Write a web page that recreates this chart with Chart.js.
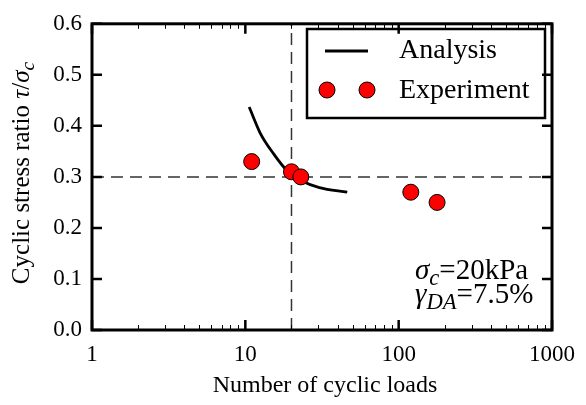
<!DOCTYPE html>
<html>
<head>
<meta charset="utf-8">
<script src="https://cdn.jsdelivr.net/npm/chart.js@4.4.1/dist/chart.umd.min.js"></script>
<style>
  html, body { margin: 0; padding: 0; background: #fff; }
  #wrap { width: 586px; height: 405px; }
</style>
</head>
<body>
<div id="wrap"><canvas id="cyclicChart"></canvas></div>
<script>
const ctx = document.getElementById('cyclicChart');

const SERIF = '"Liberation Serif", "Times New Roman", serif';

// test results: cycles to failure vs stress ratio
const expCycles = [11, 20, 23, 120, 178];
const expRatio  = [0.33, 0.31, 0.30, 0.27, 0.25];

// analysis curve
const anaCycles = [10.6, 12.5, 15.3, 18.6, 23.8, 30.4, 46.2];
const anaRatio  = [0.437, 0.386, 0.345, 0.313, 0.291, 0.279, 0.270];

// reference lines (ratio 0.3 at 20 cycles)
const refRatio  = 0.3;
const refCycles = 20;

const xTicks = [1, 10, 100, 1000];
const yTicks = [0, 0.1, 0.2, 0.3, 0.4, 0.5, 0.6];

const toXY = (xs, ys) => xs.map((x, i) => ({x: x, y: ys[i]}));

const datasets = [
    {
        label: 'Experiment',
        data: toXY(expCycles, expRatio),
        showLine: false,
        pointRadius: 8,
        pointBackgroundColor: '#ff0000',
        pointBorderColor: '#000',
        pointBorderWidth: 1,
        order: 0
    },
    {
        label: 'Analysis',
        data: toXY(anaCycles, anaRatio),
        borderColor: '#000',
        borderWidth: 2.8,
        pointRadius: 0,
        cubicInterpolationMode: 'monotone',
        order: 1
    },
    {
        label: null,
        data: [{x: xTicks[0], y: refRatio}, {x: xTicks[xTicks.length - 1], y: refRatio}],
        borderColor: '#333',
        borderWidth: 1.5,
        borderDash: [12, 7],
        pointRadius: 0,
        order: 2
    },
    {
        label: null,
        data: [{x: refCycles, y: yTicks[0]}, {x: refCycles, y: yTicks[yTicks.length - 1]}],
        borderColor: '#333',
        borderWidth: 1.5,
        borderDash: [12, 7],
        pointRadius: 0,
        order: 2
    }
];

// draw a row of text pieces, some italic and/or subscripted
function drawRuns(c, x, y, runs, size) {
    let cx = x;
    runs.forEach(r => {
        const s = r.sub ? size * 0.78 : size;
        c.font = (r.italic ? 'italic ' : '') + s + 'px ' + SERIF;
        c.fillText(r.text, cx, r.sub ? y + size * 0.2 : y);
        cx += c.measureText(r.text).width;
    });
}
function runsWidth(c, runs, size) {
    let w = 0;
    runs.forEach(r => {
        const s = r.sub ? size * 0.78 : size;
        c.font = (r.italic ? 'italic ' : '') + s + 'px ' + SERIF;
        w += c.measureText(r.text).width;
    });
    return w;
}

// frame with inward ticks on all four sides, titles, legend and note
const framePlugin = {
    id: 'frame',
    afterDatasetsDraw(chart) {
        const c = chart.ctx;
        const a = chart.chartArea;
        const xs = chart.scales.x, ys = chart.scales.y;
        c.save();
        c.strokeStyle = '#000';
        c.fillStyle = '#000';

        // minor x ticks
        c.lineWidth = 1;
        for (let d = 1; d < 1000; d *= 10) {
            for (let m = 2; m <= 9; m++) {
                const px = Math.round(xs.getPixelForValue(d * m)) + 0.5;
                c.beginPath();
                c.moveTo(px, a.bottom); c.lineTo(px, a.bottom - 5);
                c.moveTo(px, a.top); c.lineTo(px, a.top + 5);
                c.stroke();
            }
        }
        // major ticks
        c.lineWidth = 2.5;
        xTicks.forEach(v => {
            const px = xs.getPixelForValue(v);
            c.beginPath();
            c.moveTo(px, a.bottom); c.lineTo(px, a.bottom - 10);
            c.moveTo(px, a.top); c.lineTo(px, a.top + 10);
            c.stroke();
        });
        yTicks.forEach(v => {
            const py = ys.getPixelForValue(v);
            c.beginPath();
            c.moveTo(a.left, py); c.lineTo(a.left + 10, py);
            c.moveTo(a.right, py); c.lineTo(a.right - 10, py);
            c.stroke();
        });
        c.lineWidth = 3;
        c.strokeRect(a.left, a.top, a.right - a.left, a.bottom - a.top);

        // legend
        const ana = chart.data.datasets[1], exp = chart.data.datasets[0];
        c.lineWidth = 2.5;
        c.strokeRect(307, 29, 238, 89);
        c.strokeStyle = ana.borderColor;
        c.lineWidth = ana.borderWidth;
        c.beginPath(); c.moveTo(325, 51); c.lineTo(368, 51); c.stroke();
        [327, 367].forEach(px => {
            c.beginPath();
            c.arc(px, 90, exp.pointRadius, 0, Math.PI * 2);
            c.fillStyle = exp.pointBackgroundColor;
            c.fill();
            c.lineWidth = exp.pointBorderWidth;
            c.strokeStyle = exp.pointBorderColor;
            c.stroke();
        });
        c.fillStyle = '#000';
        c.textBaseline = 'middle';
        c.font = '28px ' + SERIF;
        c.fillText(ana.label, 399, 51);
        c.fillText(exp.label, 399, 91);

        // test conditions
        c.textBaseline = 'alphabetic';
        drawRuns(c, 415, 279, [
            {text: 'σ', italic: true}, {text: 'c', italic: true, sub: true}, {text: '=20kPa'}
        ], 29);
        drawRuns(c, 415, 303, [
            {text: 'γ', italic: true}, {text: 'DA', italic: true, sub: true}, {text: '=7.5%'}
        ], 29);

        // axis titles
        c.textAlign = 'center';
        c.font = '24px ' + SERIF;
        c.fillText('Number of cyclic loads', 325, 392);

        const yTitle = [
            {text: 'Cyclic stress ratio '}, {text: 'τ', italic: true}, {text: '/'},
            {text: 'σ', italic: true}, {text: 'c', italic: true, sub: true}
        ];
        c.textAlign = 'left';
        c.translate(29, 173);
        c.rotate(-Math.PI / 2);
        drawRuns(c, -runsWidth(c, yTitle, 25) / 2, 0, yTitle, 25);
        c.restore();
    }
};

new Chart(ctx, {
    type: 'line',
    data: { datasets: datasets },
    plugins: [framePlugin],
    options: {
        responsive: true,
        maintainAspectRatio: false,
        animation: false,
        layout: { padding: { top: 14, right: 27, left: 0, bottom: 0 } },
        plugins: {
            legend: { display: false },
            tooltip: { enabled: false }
        },
        scales: {
            x: {
                type: 'logarithmic',
                min: 1,
                max: 1000,
                grid: { display: false, drawTicks: false },
                border: { display: false },
                afterBuildTicks: s => { s.ticks = xTicks.map(v => ({value: v})); },
                afterFit: s => { s.height = 75; },
                ticks: {
                    color: '#000',
                    padding: 11,
                    maxRotation: 0,
                    font: { family: SERIF, size: 23 },
                    callback: v => String(v)
                }
            },
            y: {
                type: 'linear',
                min: 0,
                max: 0.6,
                grid: { display: false, drawTicks: false },
                border: { display: false },
                afterBuildTicks: s => { s.ticks = yTicks.map(v => ({value: v})); },
                afterFit: s => { s.width = 92; },
                ticks: {
                    color: '#000',
                    padding: 10,
                    font: { family: SERIF, size: 23 },
                    callback: v => v.toFixed(1)
                }
            }
        }
    }
});
</script>
</body>
</html>
